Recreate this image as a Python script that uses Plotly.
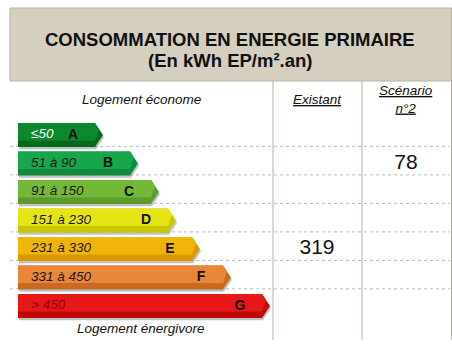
import plotly.graph_objects as go

# ---- data ----
classes = ["A", "B", "C", "D", "E", "F", "G"]
ranges = ["≤50", "51 à 90", "91 à 150", "151 à 230", "231 à 330", "331 à 450", "> 450"]
upper_bounds = [50, 90, 150, 230, 330, 450, float("inf")]
bar_lengths = [77, 112, 133, 150, 174, 205, 244]   # relative arrow lengths
columns = ["Existant", "Scénario<br>n°2"]
column_values = [319, 78]

# ---- styles ----
bar_colors = ["#0a8a2c", "#18a64c", "#74b838", "#e4e416", "#f0b40a", "#e8863a", "#e81818"]
bar_dark = ["#066a1e", "#0f8a3c", "#5e9a2a", "#c8c800", "#d89a00", "#c86a22", "#c00808"]
range_text_colors = ["white", "#1a1a1a", "#1a1a1a", "#1a1a1a", "#1a1a1a", "#1a1a1a", "#8a0000"]
W, H = 452, 348
ROW_PX = 28.5
ROW0_PX = 135
X0_PX = 18
half_h = 12 / ROW_PX
tip = 8
FONT = "Liberation Sans, Arial, sans-serif"

def py(px):
    return 1 - px / H

def pxx(px):
    return px / W

def xd(px):
    return px - X0_PX

fig = go.Figure()

for i, (L, c, cd) in enumerate(zip(bar_lengths, bar_colors, bar_dark)):
    s = 0.08
    # shadow
    fig.add_trace(go.Scatter(
        x=[1, L + 1, L + tip + 1, L + 1, 1, 1],
        y=[i - half_h + s, i - half_h + s, i + s, i + half_h + s, i + half_h + s, i - half_h + s],
        fill="toself", fillcolor="rgba(120,120,120,0.45)", mode="lines", line=dict(width=0),
        hoverinfo="skip", showlegend=False))
    # body (darker base)
    fig.add_trace(go.Scatter(
        x=[0, L, L + tip, L, 0, 0],
        y=[i - half_h, i - half_h, i, i + half_h, i + half_h, i - half_h],
        fill="toself", fillcolor=cd, mode="lines", line=dict(width=0),
        hoverinfo="skip", showlegend=False))
    # lighter upper part for glossy look
    fig.add_trace(go.Scatter(
        x=[0, L, L + tip * 0.5, L, 0, 0],
        y=[i - half_h, i - half_h, i - half_h * 0.5, i + half_h * 0.45, i + half_h * 0.45, i - half_h],
        fill="toself", fillcolor=c, mode="lines", line=dict(width=0),
        hoverinfo="skip", showlegend=False))

# range labels
fig.add_trace(go.Scatter(
    x=[13] * len(ranges), y=list(range(len(ranges))), mode="text",
    text=[f"<i>{r}</i>" for r in ranges], textposition="middle right",
    textfont=dict(family=FONT, size=13.5, color=range_text_colors),
    hoverinfo="skip", showlegend=False))
# class letters
fig.add_trace(go.Scatter(
    x=[L - 22 for L in bar_lengths], y=list(range(len(classes))), mode="text",
    text=[f"<b>{c}</b>" for c in classes], textposition="middle center",
    textfont=dict(family=FONT, size=14, color="#111111"),
    hoverinfo="skip", showlegend=False))

# values in the columns
col_x = [xd(317), xd(406)]
val_rows = [next(i for i, ub in enumerate(upper_bounds) if v <= ub) for v in column_values]
fig.add_trace(go.Scatter(
    x=col_x, y=val_rows, mode="text", text=[str(v) for v in column_values],
    textposition="middle center", textfont=dict(family=FONT, size=21, color="#111111"),
    hoverinfo="skip", showlegend=False))

shapes = []
# header box
shapes.append(dict(type="rect", xref="paper", yref="paper", x0=pxx(10), x1=pxx(451.5), y0=py(81), y1=py(8),
                   fillcolor="#d5cfc0", line=dict(color="#b9b19c", width=1), layer="below"))
# dotted row separators
for i in range(len(classes) - 1):
    shapes.append(dict(type="line", xref="paper", yref="y", x0=pxx(10), x1=pxx(450), y0=i + 0.4, y1=i + 0.4,
                       line=dict(color="#b8b8b8", width=1, dash="dot"), layer="below"))
# vertical column lines
for xp in [273, 362, 451.5]:
    shapes.append(dict(type="line", xref="paper", yref="paper", x0=pxx(xp), x1=pxx(xp), y0=py(81), y1=py(340),
                       line=dict(color="#b9b19c", width=1)))

def ann(text, xpx, ypx, size=13.5):
    return dict(text=text, x=pxx(xpx), y=py(ypx), xref="paper", yref="paper", showarrow=False,
                xanchor="center", yanchor="middle", font=dict(family=FONT, size=size, color="#111111"))

annotations = [
    ann("<b>CONSOMMATION EN ENERGIE PRIMAIRE</b>", 230, 40, size=18.5),
    ann("<b>(En kWh EP/m².an)</b>", 230, 60, size=18.5),
    ann("<i>Logement économe</i>", 141, 99),
    ann("<i>Logement énergivore</i>", 141, 328),
]
for name, xc in zip(columns, [317, 406]):
    parts = name.split("<br>")
    txt = "<br>".join(f"<i><u>{p}</u></i>" for p in parts)
    yc = 99 if len(parts) == 1 else 99.5
    annotations.append(ann(txt, xc, yc))

fig.update_layout(
    width=W, height=H, margin=dict(l=0, r=0, t=0, b=0),
    paper_bgcolor="white", plot_bgcolor="white",
    xaxis=dict(range=[-X0_PX, W - X0_PX], domain=[0, 1], visible=False, fixedrange=True),
    yaxis=dict(range=[(H - ROW0_PX) / ROW_PX, -ROW0_PX / ROW_PX], domain=[0, 1], visible=False, fixedrange=True),
    shapes=shapes, annotations=annotations, showlegend=False,
)

fig.write_html("out.html")
